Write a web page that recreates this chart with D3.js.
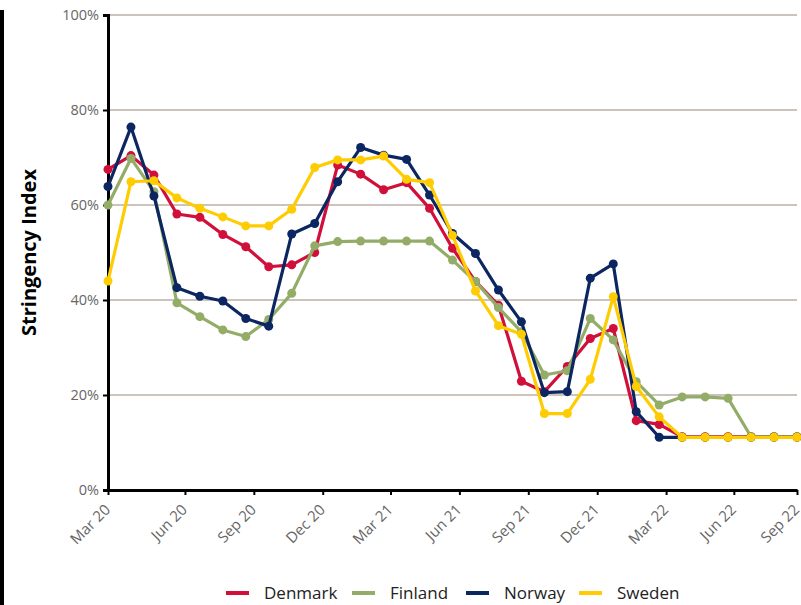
<!DOCTYPE html>
<html>
<head>
<meta charset="utf-8">
<script src="https://cdn.jsdelivr.net/npm/d3@7"></script>
<style>
  body { margin: 0; background: #fff; }
  text { font-family: "Open Sans", sans-serif; }
</style>
</head>
<body>
<div id="chart-area"></div>
<script>
// monthly values, Mar 2020 .. Sep 2022
var months = d3.range(31);

var denmark = [67.5, 70.4, 66.3, 58.1, 57.4, 53.8, 51.2, 47.0, 47.4, 50.0,
  68.4, 66.5, 63.2, 64.7, 59.3, 50.9, 43.9, 38.9, 22.9, 20.7,
  26.0, 31.9, 34.0, 14.6, 13.8, 11.2, 11.2, 11.2, 11.2, 11.2, 11.2];
var finland = [60.0, 69.8, 62.8, 39.4, 36.5, 33.7, 32.3, 35.9, 41.4, 51.4,
  52.3, 52.4, 52.4, 52.4, 52.4, 48.4, 43.9, 38.4, 33.3, 24.2,
  25.1, 36.1, 31.6, 22.8, 17.9, 19.6, 19.6, 19.3, 11.2, 11.2, 11.2];
var norway = [63.9, 76.4, 61.9, 42.6, 40.8, 39.8, 36.1, 34.5, 53.9, 56.1,
  64.9, 72.1, 70.5, 69.6, 62.1, 54.0, 49.8, 42.1, 35.4, 20.5,
  20.7, 44.6, 47.6, 16.5, 11.1, 11.1, 11.1, 11.1, 11.1, 11.1, 11.1];
var sweden = [44.0, 64.9, 65.1, 61.5, 59.3, 57.5, 55.6, 55.6, 59.1, 67.9,
  69.5, 69.5, 70.3, 65.4, 64.7, 53.6, 41.9, 34.6, 32.8, 16.1,
  16.1, 23.3, 40.7, 21.8, 15.4, 11.1, 11.1, 11.1, 11.1, 11.1, 11.1];

var countries = ["Denmark", "Finland", "Norway", "Sweden"];
var colors = ["#d0103a", "#93ad68", "#0c2661", "#fecc00"];
var seriesValues = [denmark, finland, norway, sweden];

var tickLabels = ["Mar 20", "Jun 20", "Sep 20", "Dec 20", "Mar 21", "Jun 21",
  "Sep 21", "Dec 21", "Mar 22", "Jun 22", "Sep 22"];
var tickMonths = [0, 3.35, 6.35, 9.35, 12.3, 15.3, 18.3, 21.3, 24.3, 27.25, 30];
var yTicks = [0, 20, 40, 60, 80, 100];

var width = 801, height = 605;
var margin = {left: 108, right: 4, top: 15, bottom: 115};

var svg = d3.select("#chart-area").append("svg")
  .attr("width", width)
  .attr("height", height);

var x = d3.scaleLinear().domain([0, 30]).range([margin.left, width - margin.right]);
var y = d3.scaleLinear().domain([0, 100]).range([height - margin.bottom, margin.top]);

// frame line on the far left
svg.append("rect")
  .attr("x", 0).attr("y", 10)
  .attr("width", 4).attr("height", height - 10)
  .attr("fill", "#000");

// grid
svg.append("g").selectAll("line")
  .data(yTicks.slice(1))
  .enter().append("line")
    .attr("x1", x(0)).attr("x2", x(30))
    .attr("y1", d => y(d)).attr("y2", d => y(d))
    .attr("stroke", "#cbc3bc")
    .attr("stroke-width", 2);

// y axis
var yAxis = svg.append("g")
  .attr("transform", "translate(" + x(0) + ",0)")
  .call(d3.axisLeft(y).tickValues(yTicks).tickFormat(d => d + "%").tickSize(5).tickPadding(4));
yAxis.select(".domain").attr("stroke", "#000").attr("stroke-width", 3);
yAxis.selectAll(".tick line").attr("stroke", "#000").attr("stroke-width", 2);
yAxis.selectAll("text").attr("fill", "#666").attr("font-size", 14.5);

// x axis
var xAxis = svg.append("g")
  .attr("transform", "translate(0," + y(0) + ")")
  .call(d3.axisBottom(x).tickValues(tickMonths)
    .tickFormat((d, i) => tickLabels[i]).tickSize(5).tickSizeOuter(0));
xAxis.select(".domain").attr("stroke", "#000").attr("stroke-width", 3);
xAxis.selectAll(".tick line").attr("stroke", "#000").attr("stroke-width", 2);
xAxis.selectAll("text")
  .attr("fill", "#666")
  .attr("font-size", 15)
  .attr("text-anchor", "end")
  .attr("dy", "0.35em")
  .attr("transform", "translate(-1,17) rotate(-45)")
  .attr("y", 0).attr("x", 0);

// y title
svg.append("text")
  .attr("transform", "translate(36," + y(50) + ") rotate(-90)")
  .attr("text-anchor", "middle")
  .attr("font-size", 20)
  .attr("font-weight", "bold")
  .attr("fill", "#000")
  .text("Stringency Index");

// lines and dots
var line = d3.line()
  .x((d, i) => x(months[i]))
  .y(d => y(d));

seriesValues.forEach((vals, k) => {
  var g = svg.append("g");
  g.append("path")
    .datum(vals)
    .attr("d", line)
    .attr("fill", "none")
    .attr("stroke", colors[k])
    .attr("stroke-width", 3.2)
    .attr("stroke-linejoin", "round");
  g.selectAll("circle")
    .data(vals)
    .enter().append("circle")
      .attr("cx", (d, i) => x(months[i]))
      .attr("cy", d => y(d))
      .attr("r", 4.5)
      .attr("fill", colors[k]);
});

// legend
var legendX = [226, 352, 466, 579];
var legend = svg.append("g").selectAll("g")
  .data(countries)
  .enter().append("g")
    .attr("transform", (d, i) => "translate(" + legendX[i] + ",593)");
legend.append("line")
  .attr("x1", 0).attr("x2", 23)
  .attr("stroke", (d, i) => colors[i])
  .attr("stroke-width", 4);
legend.append("text")
  .attr("x", 38)
  .attr("dy", "0.35em")
  .attr("font-size", 17)
  .attr("fill", "#222")
  .text(d => d);
</script>
</body>
</html>
